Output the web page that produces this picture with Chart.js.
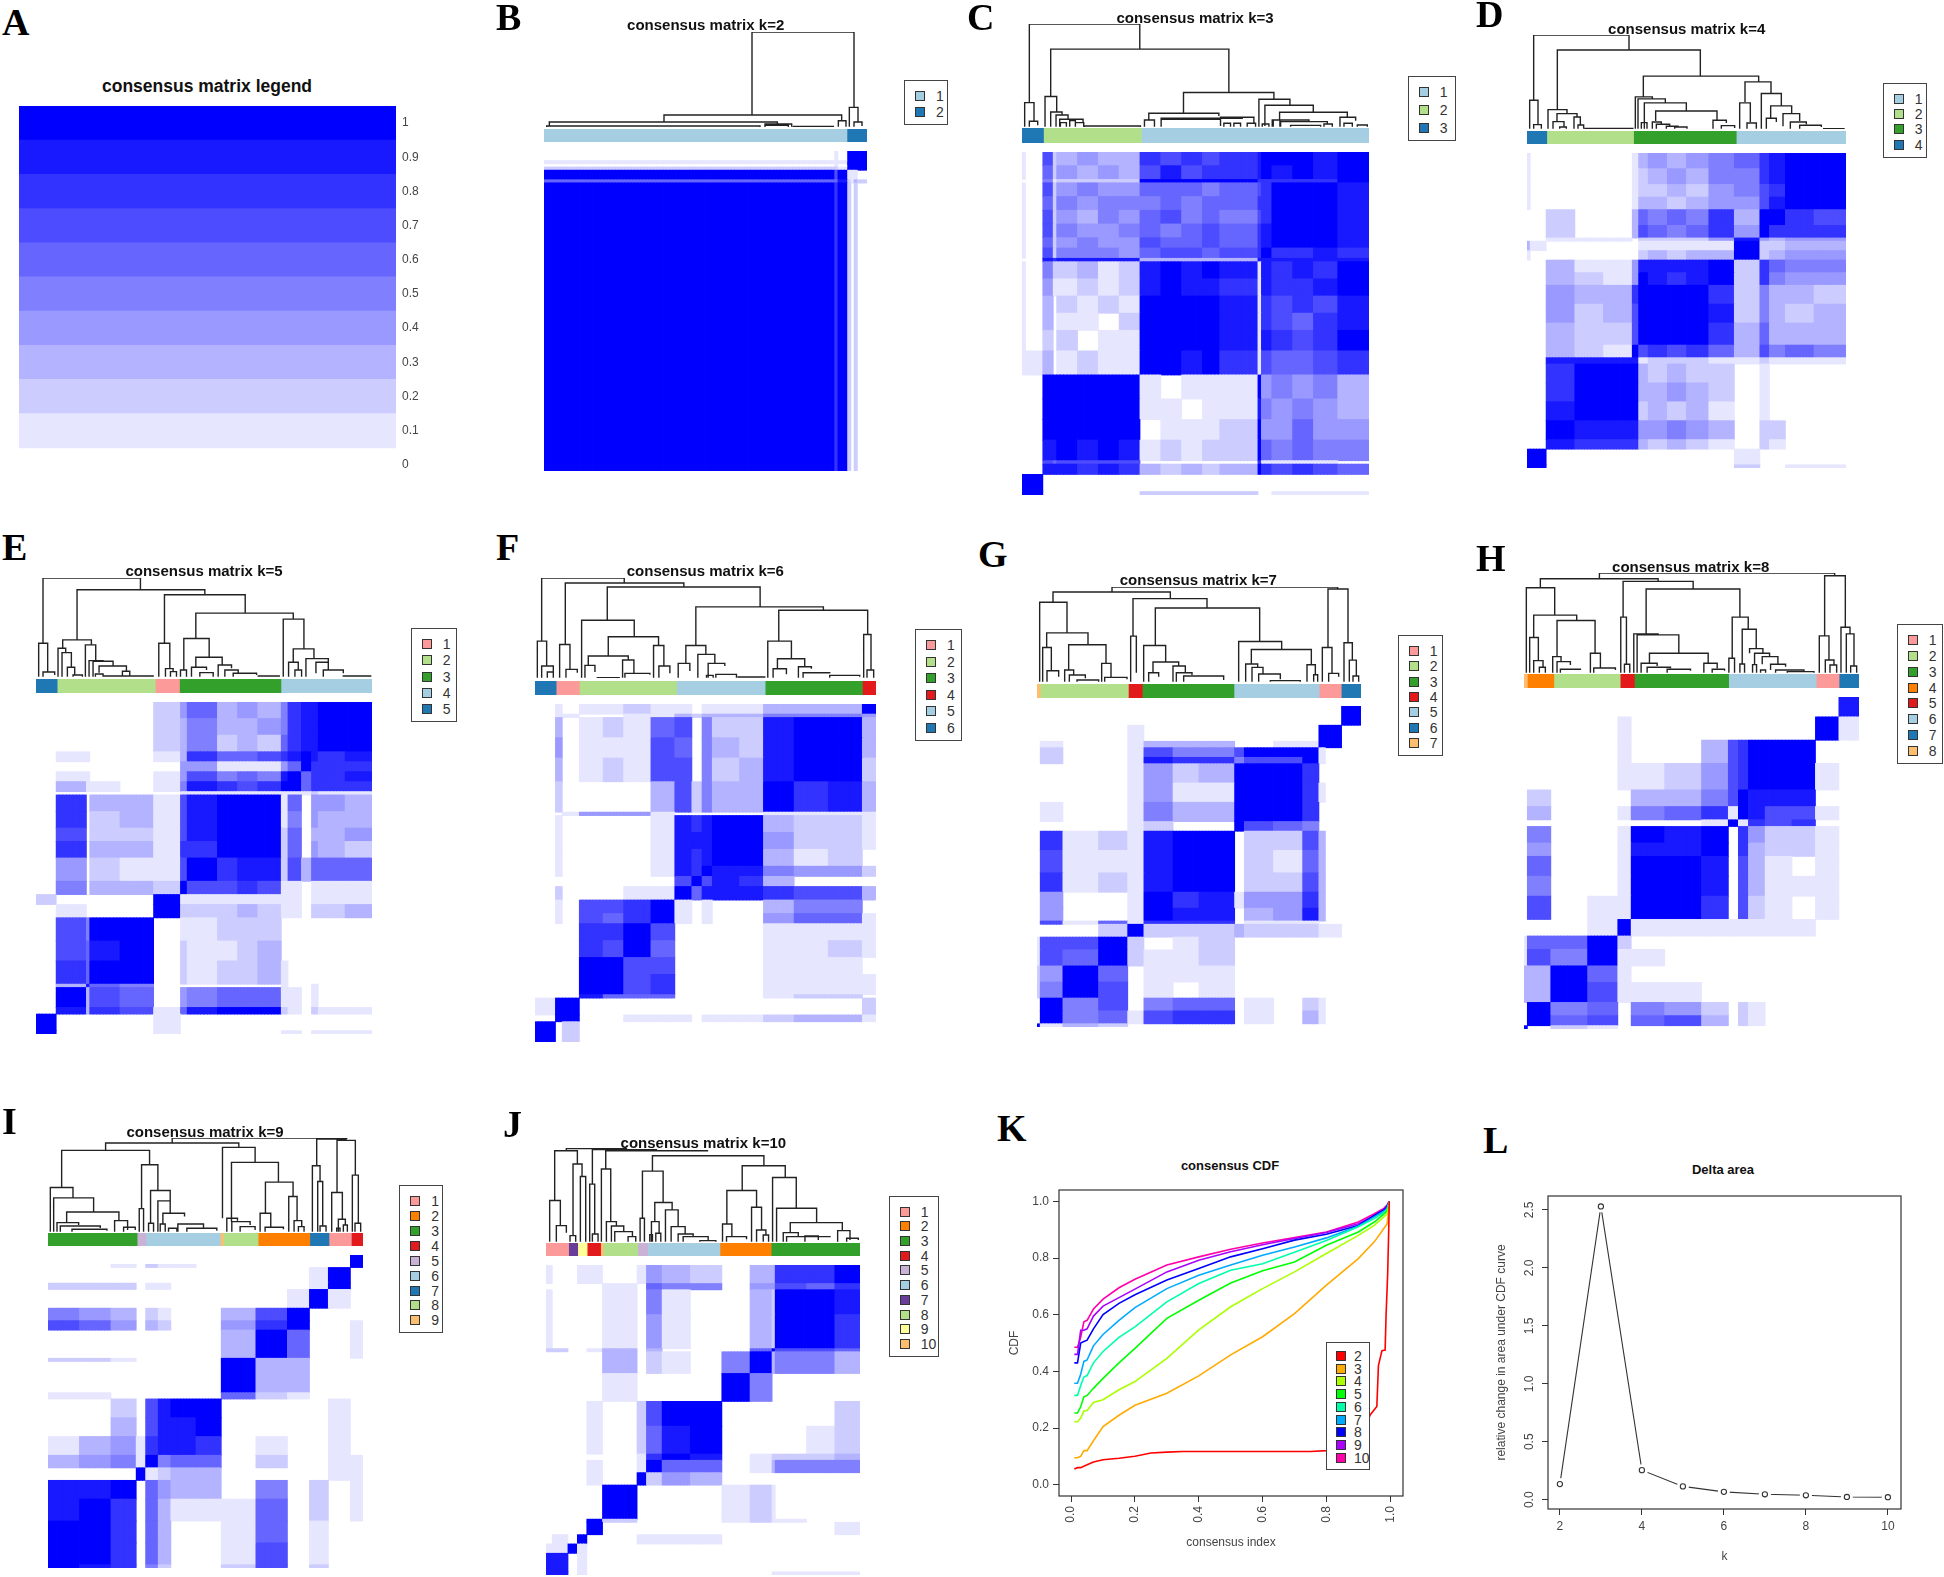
<!DOCTYPE html>
<html>
<head>
<meta charset="utf-8">
<title>consensus clustering</title>
<script src="https://cdn.jsdelivr.net/npm/chart.js@4"></script>
<style>
html, body { margin: 0; padding: 0; background: #fff; overflow: hidden; }
#page { position: relative; width: 1944px; height: 1577px; font-family: "Liberation Sans", Arial, sans-serif; }
#page canvas { position: absolute; filter: blur(0.4px); }
.letter { position: absolute; font: bold 38px/1 "Liberation Serif", serif; color: #000; }
.title { position: absolute; transform: translate(-50%, -50%); font-weight: bold; font-size: 15px; color: #111; white-space: nowrap; }
.legend { position: absolute; box-sizing: border-box; border: 1.3px solid #444; background: #fff; }
.legend i { position: absolute; box-sizing: border-box; border: 1px solid #333; }
.legend span { position: absolute; font-size: 14px; line-height: 14px; color: #333; }
</style>
</head>
<body>
<div id="page"></div>
<script>
// ---- colours
const LB = '#A6CEE3', BL = '#1F78B4', LG = '#B2DF8A', GR = '#33A02C', PK = '#FB9A99', RD = '#E31A1C';
const LO = '#FDBF6F', OR = '#FF7F00', LP = '#CAB2D6', PU = '#6A3D9A', YE = '#FFFF99';
const levelColors = { '0': 'rgba(0,0,0,0)', '1': '#E6E6FF', '2': '#CCCCFF', '3': '#B3B3FF', '4': '#9999FF', '5': '#8080FF',
    '6': '#6666FF', '7': '#4D4DFF', '8': '#3333FF', '9': '#1919FF', 'a': '#0000FF' };

// ---- panel A
const legendLevels = ['1', '2', '3', '4', '5', '6', '7', '8', '9', 'a'];
const legendValues = [0.1, 0.2, 0.3, 0.4, 0.5, 0.6, 0.7, 0.8, 0.9, 1];
const legendTicks = [0, 0.1, 0.2, 0.3, 0.4, 0.5, 0.6, 0.7, 0.8, 0.9, 1];

// ---- cluster bars (share of samples, left to right)
const barB = [93.8, 6.2], barBc = [LB, BL];
const barC = [6.2, 28.2, 65.6], barCc = [BL, LG, LB];
const barD = [6.2, 27.2, 32.2, 34.4], barDc = [BL, LG, GR, LB];
const barE = [6.3, 29.2, 7.2, 30.2, 27.1], barEc = [BL, LG, PK, GR, LB];
const barF = [6.2, 6.8, 28.5, 26, 28.5, 4], barFc = [BL, PK, LG, LB, GR, RD];
const barG = [1, 27.2, 4.3, 28.3, 26.3, 6.8, 6.1], barGc = [LO, LG, RD, GR, LB, PK, BL];
const barH = [1, 8, 20, 4.3, 28.4, 26.4, 6.9, 6], barHc = [LO, OR, LG, RD, GR, LB, PK, BL];
const barI = [28.3, 2.8, 23.6, 1, 11, 16.4, 6.1, 7.1, 3.7], barIc = [GR, LP, LB, LO, LG, OR, BL, PK, RD];
const barJ = [7.2, 2.9, 3, 4.3, 0.8, 11, 3.2, 23, 16.3, 28.3], barJc = [PK, PU, YE, RD, LO, LG, LP, LB, OR, GR];

// ---- legend entries
const legB = [LB, BL];
const legC = [LB, LG, BL];
const legD = [LB, LG, GR, BL];
const legE = [PK, LG, GR, LB, BL];
const legF = [PK, LG, GR, RD, LB, BL];
const legG = [PK, LG, GR, RD, LB, BL, LO];
const legH = [PK, LG, GR, OR, RD, LB, BL, LO];
const legI = [PK, OR, GR, RD, LP, LB, BL, LG, LO];
const legJ = [PK, OR, GR, RD, LP, LB, PU, LG, YE, LO];

// ---- consensus matrices: block edges in samples, one level per block (a = 1.0)
const colsB = [0, 90, 91, 94, 95, 96, 97, 100];
const rowsB = [0, 3, 4, 5, 6, 9, 10, 100];
const matB = [
    '0 1 0 a a a a',
    '1 1 1 a a a a',
    '0 1 0 a a a a',
    '2 2 1 a a a a',
    'a 7 a 1 1 1 0',
    '6 6 9 2 1 3 2',
    'a 8 a 2 0 2 0'];

const colsC = [0, 1, 6, 9, 10, 16, 22, 28, 34, 40, 46, 52, 57, 68, 69, 72, 78, 84, 91, 100];
const rowsC = [0, 4, 8, 9, 13, 17, 21, 25, 28, 31, 32, 37, 42, 47, 52, 58, 65, 72, 78, 84, 90, 91, 94, 99, 100];
const matC = [
    '1072 3433 8787 8 9 a aa9 a',
    '1062 4343 7978 8 9 a 9a9 a',
    '0051 2222 aaaa a 8 8 888 a',
    '1072 4544 6665 6 7 8 aaa 9',
    '1062 5455 5656 6 8 8 aaa 9',
    '1072 4354 6756 5 7 8 aaa 9',
    '1072 5445 6567 6 8 9 aaa 9',
    '1062 4544 7667 6 8 9 aaa 9',
    '1072 5554 6776 7 8 a 889 8',
    '0098 9999 3333 3 9 9 999 9',
    '1052 2312 9a9a 9 1 9 898 a',
    '1041 1212 9a99 8 1 9 889 a',
    '1030 2121 aaaa 9 1 8 787 9',
    '1030 1102 aaaa 9 1 8 768 9',
    '1020 2011 aaaa 9 1 9 878 a',
    '1130 1211 aa9a 8 1 7 667 8',
    '00aa aaaa 1011 1 a 4 545 3',
    '00aa aaaa 1101 1 9 5 454 3',
    '00aa aaaa 0111 2 a 4 464 4',
    '0099 a9a9 1212 2 a 6 565 5',
    '0076 7777 0000 0 8 1 111 0',
    '0099 9898 3232 3 a 8 787 6',
    'aa00 0000 0000 0 0 0 000 0',
    'aa00 0000 2222 2 0 0 111 1'];

const colsD = [0, 1, 6, 15, 24, 33, 35, 38, 44, 50, 57, 65, 73, 76, 81, 90, 100];
const rowsD = [0, 5, 10, 14, 18, 23, 27, 28, 31, 34, 38, 42, 48, 54, 61, 65, 67, 73, 79, 85, 91, 94, 99, 100];
const matD = [
    '1 0 0 00 1 3 434 5 6 8 9 aa',
    '1 0 0 00 1 2 343 5 5 8 9 aa',
    '1 0 0 00 1 2 232 4 5 7 8 aa',
    '1 0 0 00 1 3 323 4 4 7 9 aa',
    '0 0 2 00 3 6 565 8 3 a a 87',
    '0 0 2 00 3 7 656 8 4 a 8 88',
    '0 0 1 11 0 2 222 4 9 4 3 44',
    '3 1 0 00 0 1 111 1 a 2 2 33',
    '1 0 0 00 0 2 323 3 a 2 3 44',
    '0 0 3 11 4 9 999 a 2 8 6 55',
    '0 0 3 21 4 a 989 a 2 8 5 44',
    '0 0 4 33 8 a aaa 8 2 5 3 32',
    '0 0 4 23 7 a aaa 9 2 5 3 23',
    '0 0 3 22 7 a aaa 8 3 6 3 33',
    '0 0 3 21 a 7 878 6 3 7 5 65',
    '0 0 9 99 9 1 222 1 1 2 1 11',
    '0 0 8 aa a 3 232 2 0 1 0 00',
    '0 0 8 aa a 3 343 2 0 1 0 00',
    '0 0 9 aa a 2 323 1 0 1 0 00',
    '0 0 a 99 9 4 454 3 0 2 2 00',
    '0 0 9 88 8 3 232 1 0 2 1 00',
    'a a 0 00 0 0 000 0 1 0 0 00',
    'a a 0 00 0 0 000 0 2 0 0 11'];

const colsE = [0, 6, 15, 16, 25, 35, 43, 45, 54, 60, 66, 73, 75, 79, 82, 84, 92, 100];
const rowsE = [0, 5, 10, 15, 18, 21, 24, 27, 28, 33, 38, 42, 47, 54, 58, 61, 65, 72, 78, 85, 86, 92, 94, 99, 100];
const matE = [
    '0 0 0 0 0 2 4 6 3 4 3 5 8 9 9 a a',
    '0 0 0 0 0 2 3 5 3 3 4 5 8 9 9 a a',
    '0 0 0 0 0 2 3 5 2 3 2 6 8 9 9 a a',
    '0 1 1 0 0 1 3 8 6 6 7 8 9 a 9 8 9',
    '0 0 0 0 0 0 4 4 1 1 1 4 6 a 8 8 8',
    '0 1 1 0 0 1 4 7 5 6 5 9 a 6 8 8 9',
    '0 3 1 1 0 1 5 9 8 7 8 a a 6 8 8 8',
    '0 0 0 0 0 0 1 1 1 1 1 1 1 1 2 1 1',
    '0 8 0 3 3 1 7 9 a a a 1 6 0 4 4 3',
    '0 8 0 2 3 1 7 9 a a a 1 5 0 4 3 3',
    '0 7 0 2 2 1 7 9 a a a 2 6 0 3 3 4',
    '0 8 0 3 3 1 8 8 a a a 2 6 0 4 3 2',
    '0 4 0 2 1 1 7 a 8 9 9 2 7 3 6 6 6',
    '0 5 0 3 3 2 a 7 7 8 7 1 1 0 1 1 1',
    '2 0 0 0 0 a 1 1 1 1 1 1 1 0 1 1 1',
    '0 1 0 0 0 a 2 2 2 3 2 1 1 0 2 2 3',
    '0 7 5 a a 0 1 1 2 2 2 0 0 0 0 0 0',
    '0 7 6 9 a 0 2 1 1 2 3 0 0 0 0 0 0',
    '0 8 6 a a 0 2 1 2 2 3 1 0 0 0 0 0',
    '0 3 9 6 5 0 0 0 0 0 0 1 0 0 1 0 0',
    '0 a 3 7 6 0 4 5 6 6 6 1 1 0 1 0 0',
    '0 9 3 8 7 1 6 9 a a a 2 1 0 2 1 1',
    'a 0 0 0 0 1 0 0 0 0 0 0 0 0 0 0 0',
    'a 0 0 0 0 1 0 0 0 0 0 1 1 0 1 1 1'];

const colsF = [0, 6, 8, 13, 20, 26, 34, 41, 46, 49, 52, 60, 67, 76, 86, 96, 100];
const rowsF = [0, 3, 4, 10, 16, 23, 32, 33, 38, 43, 48, 51, 54, 58, 62, 65, 70, 75, 80, 86, 87, 92, 94, 100];
const matF = [
    '0 1 0 1 1 2 1 1 0 1 1 1 3 3 3 a',
    '0 1 1 0 0 1 1 3 2 3 3 3 5 5 5 4',
    '0 3 0 1 2 1 6 7 0 5 2 2 9 a a 3',
    '0 4 0 1 1 1 7 6 0 5 3 2 9 a a 3',
    '0 3 0 1 2 1 7 7 0 5 2 3 9 a a 2',
    '0 2 0 0 0 0 3 7 2 5 3 3 a 8 9 3',
    '0 0 1 4 4 4 1 0 0 0 0 0 1 1 1 1',
    '0 1 0 0 0 0 1 9 8 9 a a 3 2 2 1',
    '0 1 0 0 0 0 1 9 9 9 a a 4 2 2 1',
    '0 1 0 0 0 0 1 9 8 9 a a 3 1 2 0',
    '0 1 0 0 0 0 1 9 8 a 9 9 5 4 4 2',
    '0 0 0 0 0 0 0 7 a 7 9 8 3 0 0 0',
    '0 2 0 0 0 1 1 a 6 9 9 9 8 7 7 3',
    '0 1 0 7 7 8 a 1 0 1 0 0 3 5 5 0',
    '0 1 0 7 6 8 a 1 0 1 0 0 4 6 6 1',
    '0 0 0 8 8 a 7 0 0 0 0 0 1 1 1 1',
    '0 0 0 8 7 a 6 0 0 0 0 0 1 1 2 1',
    '0 0 0 a a 7 7 0 0 0 0 0 1 1 1 0',
    '0 0 0 a a 7 8 0 0 0 0 0 1 1 1 1',
    '0 0 0 9 6 6 6 0 0 0 0 0 1 2 2 0',
    '1 a a 0 0 0 0 0 0 0 0 0 0 0 0 2',
    '0 a a 0 0 1 1 1 0 1 1 1 2 3 3 1',
    'a 0 2 0 0 0 0 0 0 0 0 0 0 0 0 0'];

const colsG = [0, 1, 8, 19, 28, 33, 42, 50, 61, 64, 73, 82, 87, 89, 94, 100];
const rowsG = [0, 6, 11, 13, 16, 18, 24, 30, 36, 39, 45, 52, 58, 63, 67, 68, 72, 76, 81, 86, 91, 95, 99, 100];
const matG = [
    '0 0 0 0 0 0 0 0 0 0 0 0 0 0 a',
    '0 0 0 0 1 0 0 0 0 0 0 0 a a 0',
    '0 1 0 0 1 3 3 3 0 0 1 1 a a 0',
    '0 2 0 0 1 7 5 5 7 a a a 1 0 0',
    '0 2 0 0 1 9 8 8 5 7 7 a 1 0 0',
    '0 0 0 0 1 4 2 3 a a a 8 0 0 0',
    '0 0 0 0 1 4 1 1 a a a 8 1 0 0',
    '0 1 0 0 1 5 3 3 a a a 8 0 0 0',
    '0 0 0 0 1 2 0 0 a 7 6 5 0 0 0',
    '0 8 1 2 1 9 a a 0 2 2 7 3 0 0',
    '0 7 1 1 1 9 a a 0 2 1 6 3 0 0',
    '0 8 1 2 1 9 a a 0 2 2 7 3 0 0',
    '0 4 0 0 1 a 8 9 1 4 4 8 3 0 0',
    '0 4 0 0 1 a 9 9 0 3 4 9 3 0 0',
    '0 7 1 6 1 8 8 8 0 1 1 1 0 0 0',
    '0 0 0 2 a 2 2 2 3 2 2 2 1 1 0',
    '1 7 7 a 2 0 1 2 0 0 0 0 0 0 0',
    '1 7 6 a 2 1 1 2 0 0 0 0 0 0 0',
    '2 4 a 6 0 1 1 1 0 0 0 0 0 0 0',
    '2 5 a 7 0 1 0 1 0 0 0 0 0 0 0',
    '0 a 5 7 0 5 6 6 0 1 0 2 1 0 0',
    '0 a 5 6 1 7 8 8 0 1 0 3 1 0 0',
    'a 1 3 2 0 0 0 0 0 0 0 0 0 0 0'];

const colsH = [0, 1, 8, 19, 28, 32, 42, 53, 61, 64, 67, 72, 80, 87, 94, 100];
const rowsH = [0, 6, 13, 20, 28, 33, 37, 39, 44, 48, 54, 60, 67, 72, 76, 81, 86, 92, 96, 99, 100];
const matH = [
    '0 0 0 0 0 0 0 0 0 0 0 0 0 0 9',
    '0 0 0 0 1 0 0 0 0 0 0 0 0 a 1',
    '0 0 0 0 1 0 0 3 7 8 a a a 0 0',
    '0 0 0 0 1 1 2 4 7 8 a a a 1 0',
    '0 2 0 0 0 3 3 5 7 a 9 9 9 0 0',
    '0 3 0 0 1 5 6 8 1 a 9 7 7 1 0',
    '0 0 0 0 0 0 0 1 a 1 8 7 8 0 0',
    '0 5 0 0 1 a 9 a 0 8 4 2 2 1 0',
    '0 4 0 0 1 9 9 a 0 8 3 2 2 1 0',
    '0 6 0 0 1 a a 9 0 7 3 1 0 1 0',
    '0 5 0 0 1 a a 9 0 7 3 1 1 1 0',
    '0 7 0 1 1 a a 8 0 7 2 1 0 1 0',
    '0 0 0 1 a 1 1 1 1 1 1 1 1 0 0',
    '1 6 6 a 2 0 0 0 0 0 0 0 0 0 0',
    '1 7 5 a 1 1 0 0 0 0 0 0 0 0 0',
    '3 3 a 6 1 0 0 0 0 0 0 0 0 0 0',
    '3 3 a 7 1 1 1 0 0 0 0 0 0 0 0',
    '0 a 5 6 0 5 4 2 0 2 1 0 0 0 0',
    '0 a 6 7 0 6 7 3 0 2 1 0 0 0 0',
    'a 0 2 1 0 0 0 0 0 0 0 0 0 0 0'];

const colsI = [0, 10, 20, 28, 31, 35, 39, 47, 55, 66, 76, 83, 89, 96, 100];
const rowsI = [0, 3, 4, 9, 11, 17, 21, 24, 33, 34, 44, 46, 52, 58, 64, 68, 72, 78, 85, 92, 99, 100];
const matI = [
    '0 0 0 0 0 0 0 0 0 0 0 0 0 a',
    '0 0 1 0 2 1 1 0 0 0 0 0 0 a',
    '0 0 0 0 0 0 0 0 0 0 0 1 a 0',
    '2 2 2 0 1 1 0 0 0 0 0 1 a 0',
    '0 0 0 0 0 0 0 0 0 0 1 a 1 0',
    '5 4 3 0 2 1 0 0 3 7 a 0 0 0',
    '7 6 4 0 3 2 0 0 4 8 a 0 0 1',
    '0 0 0 0 0 0 0 0 3 a 6 0 0 1',
    '2 2 1 0 0 0 0 0 a 3 3 0 0 0',
    '0 0 0 0 0 0 0 0 a 3 3 0 0 0',
    '1 1 0 0 0 0 0 0 6 2 1 0 0 0',
    '0 0 2 0 7 9 a a 0 0 0 0 1 0',
    '0 0 3 0 7 9 9 a 0 0 0 0 1 0',
    '1 3 4 1 8 9 9 8 0 1 0 0 1 0',
    '3 4 5 1 a 5 6 6 0 2 0 0 1 1',
    '0 0 0 a 1 2 3 3 0 0 0 0 1 1',
    '9 9 a 0 6 4 3 3 0 5 0 2 0 1',
    '9 a 8 0 6 3 1 1 1 6 0 2 0 1',
    'a a 8 0 6 3 0 0 1 6 0 1 0 0',
    'a a 8 0 6 3 0 0 1 7 0 1 0 0',
    'a 9 8 0 5 2 0 0 2 7 0 2 0 0'];

const colsJ = [0, 2, 7, 10, 13, 18, 29, 32, 37, 46, 56, 65, 72, 73, 83, 92, 100];
const rowsJ = [0, 6, 8, 16, 27, 28, 35, 44, 52, 61, 63, 67, 71, 82, 83, 87, 90, 93, 99, 100];
const matJ = [
    '1 0 0 1 1 0 1 4 3 2 0 3 3 8 8 a',
    '0 0 0 0 0 1 0 6 5 5 0 4 4 7 6 8',
    '1 0 0 0 0 1 0 5 1 0 0 3 2 a a 9',
    '1 0 0 0 0 1 0 4 1 0 0 3 2 a a 8',
    '2 2 0 0 1 3 0 3 0 0 0 6 a 7 7 6',
    '0 0 0 0 0 3 0 2 1 0 5 a 3 5 5 3',
    '0 0 0 0 0 1 0 0 0 0 a 5 0 0 0 0',
    '0 0 0 0 1 0 2 7 a a 0 0 0 0 0 2',
    '0 0 0 0 1 0 2 6 9 a 0 0 0 0 1 2',
    '0 0 0 0 0 0 1 8 a 9 0 1 2 2 2 3',
    '0 0 0 0 1 0 1 a 6 6 0 1 3 5 5 5',
    '0 0 0 0 1 0 a 2 4 3 0 0 0 0 0 0',
    '0 0 0 0 0 a 0 0 0 0 1 2 1 0 0 0',
    '0 0 0 0 a 2 0 0 0 0 1 2 1 1 0 0',
    '0 0 0 0 a 0 0 0 0 0 0 0 0 0 0 1',
    '0 1 0 a 0 0 1 1 1 1 0 0 0 0 0 0',
    '1 1 a 1 0 0 0 0 0 0 0 0 0 0 0 0',
    '9 9 0 1 0 0 0 0 0 0 0 0 0 0 0 0',
    '9 9 0 1 0 0 0 0 0 0 0 0 1 1 1 1'];

const treeB = [[816,1122,95,345,322],[552,1085,345,366,362],[208,892,366,378,372],[200,840,378,381,381],[855,935,372,380,380],
    [855,925,376,381,381],[940,1060,379,381,381],[1075,1098,362,380,380],[1108,1134,322,380,366],[1122,1146,366,380,378]];
const treeC = [[207,538,73,308,148],[271,805,148,290,278],[193,221,308,380,362],[207,232,364,380,376],[254,289,290,380,336],
    [271,305,336,380,345],[287,323,345,380,358],[298,368,358,380,366],[300,318,368,380,380],[328,345,362,380,380],[345,370,368,380,380],
    [372,540,378,381,381],[669,940,278,340,298],[565,775,340,358,348],[552,582,360,380,380],[602,845,355,380,350],[602,780,358,378,378],
    [780,880,352,370,370],[790,810,370,380,380],[820,840,370,380,380],[860,885,370,380,380],[895,988,298,380,315],[913,1058,316,378,336],
    [957,1160,337,358,352],[935,1045,360,380,365],[905,925,372,380,380],[938,958,360,380,380],[960,1100,365,380,372],[990,1080,376,380,380],
    [1090,1115,372,380,380],[1138,1185,352,380,362],[1150,1175,370,380,380],[1190,1220,375,380,380]];
const treeD = [[192,478,105,300,150],[263,692,150,330,228],[180,205,300,385,373],[192,215,373,385,385],[235,292,328,385,340],
    [262,322,340,362,350],[250,283,364,385,378],[270,290,380,385,385],[313,332,350,385,372],[325,342,374,385,385],[345,490,384,385,385],
    [521,867,228,288,245],[497,548,290,385,295],[505,587,296,385,308],[524,650,308,385,332],[558,742,332,362,360],[515,532,367,385,385],
    [548,575,365,385,370],[560,600,372,385,376],[590,625,378,385,380],[615,652,380,385,385],[730,770,360,385,368],[755,795,376,385,383],
    [826,904,245,305,278],[810,842,308,385,365],[832,860,368,385,385],[875,935,280,385,315],[903,966,317,352,340],[890,920,354,385,365],
    [940,990,340,378,362],[962,1010,365,385,372],[990,1055,375,385,380],[1060,1125,385,385,385]];
const treeE = [[130,422,145,340,180],[232,615,180,330,193],[117,144,340,440,425],[130,165,426,440,435],[189,275,330,355,345],
    [175,198,355,440,368],[187,215,368,440,412],[203,225,412,440,435],[220,248,435,440,440],[257,288,345,440,390],[268,310,392,440,394],
    [280,340,394,440,408],[298,380,408,428,424],[287,310,432,440,440],[368,390,424,440,440],[310,460,438,440,440],[494,736,195,340,250],
    [477,510,340,440,415],[497,520,416,440,425],[512,530,425,440,440],[588,880,250,326,268],[552,628,326,420,382],[542,560,420,440,440],
    [588,667,382,412,405],[575,620,412,440,420],[600,640,428,440,440],[655,695,405,440,415],[675,715,420,440,428],[700,770,430,440,435],
    [775,838,438,440,440],[850,912,268,440,356],[880,942,357,395,385],[866,895,397,440,418],[918,985,386,440,396],[948,985,397,430,420],
    [970,1030,420,440,430],[885,905,420,440,440],[1030,1112,438,440,440]];
const treeF = [[155,403,145,335,160],[226,582,160,345,172],[352,811,172,270,232],[142,170,335,445,410],[155,190,410,445,428],
    [172,190,428,445,445],[209,240,345,445,420],[228,262,420,445,430],[275,433,272,445,322],[355,506,322,380,348],[295,415,380,408,392],
    [285,315,408,445,428],[398,432,392,445,432],[405,480,432,445,436],[320,390,445,445,445],[491,522,348,445,410],[507,540,410,445,432],
    [618,1001,232,348,242],[588,648,348,400,375],[565,600,402,445,425],[624,675,375,445,400],[655,705,402,445,410],[678,740,435,445,445],
    [650,670,438,445,445],[745,825,443,445,445],[867,1134,242,335,315],[834,905,335,445,388],[863,945,388,418,412],[850,890,418,445,435],
    [926,965,412,445,418],[940,1020,430,445,432],[1020,1110,438,445,442],[1122,1144,315,445,422],[1132,1152,422,445,445]];
const treeG = [[425,1102,170,185,176],[248,600,185,215,205],[208,290,216,455,308],[229,353,308,352,344],[217,243,352,455,422],
    [230,265,422,455,440],[295,407,344,420,400],[283,310,420,455,435],[297,345,435,455,445],[320,385,450,455,455],[394,422,400,455,442],
    [403,470,442,455,448],[488,710,205,318,233],[481,498,318,455,428],[555,868,233,346,332],[520,586,346,455,396],[548,625,396,428,408],
    [535,565,428,455,440],[608,645,408,455,428],[618,665,428,455,435],[640,760,438,455,450],[805,934,334,455,358],[843,1023,358,402,404],
    [826,862,402,455,410],[845,878,412,455,430],[865,930,432,455,448],[900,990,452,455,455],[1010,1035,404,455,432],[1030,1042,434,455,455],
    [1073,1133,176,352,336],[1056,1085,352,455,428],[1075,1105,430,455,440],[1121,1146,338,455,390],[1137,1158,390,455,438],[1148,1165,438,455,455]];
const treeH = [[387,1092,130,147,138],[210,563,147,173,155],[168,253,174,428,255],[190,319,256,322,272],[178,204,323,428,392],
    [190,218,392,428,410],[207,225,412,428,428],[260,374,272,378,370],[247,272,380,428,395],[260,300,395,428,405],[270,330,418,428,420],
    [360,390,370,428,412],[370,435,414,428,420],[458,668,155,262,178],[451,468,262,428,403],[462,478,403,428,428],[527,808,178,310,262],
    [490,563,312,428,315],[500,625,315,428,368],[537,713,370,400,398],[512,560,400,428,408],[530,600,412,428,415],[590,660,418,428,422],
    [700,740,400,428,415],[725,762,418,428,422],[785,833,262,385,298],[775,792,385,428,428],[815,857,298,400,356],[808,822,402,428,428],
    [837,877,356,370,370],[852,897,370,402,380],[846,858,404,428,428],[875,922,380,403,403],[900,945,403,420,410],[870,885,420,428,428],
    [915,1000,420,428,425],[950,1030,425,428,428],[1062,1124,138,318,292],[1046,1075,318,428,390],[1064,1090,390,428,405],[1078,1098,405,428,428],
    [1111,1138,292,428,312],[1127,1150,312,428,408],[1140,1158,408,428,428]];
const treeI = [[516,1040,115,130,118],[316,716,130,152,142],[184,448,152,262,195],[150,218,263,395,293],[160,280,294,395,336],
    [199,356,336,368,362],[170,235,368,395,375],[180,300,378,395,384],[215,320,388,395,392],[343,382,362,395,390],[370,405,382,395,390],
    [424,473,195,326,272],[417,430,326,395,395],[451,510,272,370,303],[445,460,370,395,395],[473,510,303,395,338],[488,553,340,372,350],
    [480,495,372,395,395],[505,530,385,395,395],[533,610,372,395,385],[560,650,385,395,392],[667,765,143,355,188],[694,835,188,365,247],
    [680,712,355,395,362],[695,750,365,395,375],[720,765,380,395,390],[796,879,247,340,290],[780,812,340,395,380],[795,850,382,395,388],
    [866,891,290,395,362],[882,905,362,395,380],[895,912,380,395,395],[950,1038,118,198,122],[1011,1066,122,278,226],[937,960,198,395,245],
    [953,968,245,395,378],[960,978,378,395,395],[995,1027,278,395,358],[1015,1036,358,395,375],[1010,1020,385,395,395],[1030,1042,375,395,395],
    [1057,1075,226,395,370],[1065,1082,370,395,395]];
const treeJ = [[200,380,147,152,150],[165,233,153,302,192],[150,182,302,425,375],[170,200,377,425,398],[220,247,193,405,230],
    [211,228,407,425,425],[242,258,230,425,425],[278,470,150,253,152],[270,285,253,425,402],[278,295,402,425,425],[318,625,153,208,153],
    [458,792,168,213,198],[305,333,208,425,365],[320,350,365,425,376],[335,372,378,425,395],[345,398,395,425,410],[385,408,410,425,425],
    [428,490,214,355,308],[421,434,355,425,425],[465,517,308,365,330],[455,478,365,425,400],[450,458,404,425,425],[468,483,400,425,425],
    [497,535,330,425,380],[514,556,380,425,400],[535,580,402,425,410],[550,625,410,425,420],[600,648,422,425,425],[727,856,198,272,232],
    [681,770,272,370,322],[668,696,372,425,410],[680,740,410,425,418],[755,785,322,425,390],[770,798,390,425,405],[790,806,405,425,425],
    [818,889,233,425,325],[830,950,325,425,368],[871,1027,368,398,392],[850,895,398,425,410],[860,990,410,425,412],[915,955,408,425,420],
    [1013,1050,392,425,420],[1040,1075,415,425,420]];

// ---- panel K, CDF curves
const cdfLabels = ['2', '3', '4', '5', '6', '7', '8', '9', '10'];
const cdfColors = ['#FF0000', '#FFAA00', '#AAFF00', '#00FF00', '#00FFAA', '#00AAFF', '#0000FF', '#AA00FF', '#FF00AA'];
const cdfTicks = [0, 0.2, 0.4, 0.6, 0.8, 1];
const x2 = [0.01, 0.02, 0.03, 0.05, 0.07, 0.1, 0.15, 0.2, 0.25, 0.3, 0.35, 0.5, 0.75, 0.8, 0.85, 0.9, 0.937, 0.958, 0.963, 0.974, 0.984, 0.987, 0.992, 0.995, 0.997];
const y2 = [0.055, 0.06, 0.06, 0.07, 0.08, 0.088, 0.093, 0.1, 0.112, 0.115, 0.117, 0.117, 0.117, 0.12, 0.125, 0.14, 0.246, 0.276, 0.42, 0.473, 0.475, 0.6, 0.745, 0.886, 1];
const xCdf = [0.01, 0.02, 0.03, 0.04, 0.05, 0.07, 0.1, 0.15, 0.2, 0.3, 0.4, 0.5, 0.6, 0.7, 0.8, 0.9, 0.95, 0.98, 0.99, 0.997];
const y3 = [0.095, 0.095, 0.1, 0.12, 0.12, 0.155, 0.205, 0.245, 0.28, 0.323, 0.384, 0.458, 0.522, 0.604, 0.704, 0.798, 0.857, 0.904, 0.92, 0.985];
const y4 = [0.222, 0.222, 0.235, 0.26, 0.262, 0.29, 0.3, 0.335, 0.364, 0.446, 0.546, 0.628, 0.692, 0.751, 0.816, 0.88, 0.915, 0.945, 0.955, 0.99];
const y5 = [0.253, 0.253, 0.275, 0.31, 0.315, 0.34, 0.375, 0.43, 0.481, 0.587, 0.651, 0.712, 0.755, 0.786, 0.845, 0.892, 0.927, 0.955, 0.965, 0.995];
const y6 = [0.315, 0.315, 0.35, 0.38, 0.385, 0.43, 0.47, 0.52, 0.557, 0.645, 0.71, 0.757, 0.78, 0.82, 0.862, 0.91, 0.939, 0.96, 0.97, 0.998];
const y7 = [0.358, 0.358, 0.39, 0.435, 0.44, 0.49, 0.53, 0.58, 0.625, 0.692, 0.739, 0.775, 0.81, 0.839, 0.871, 0.912, 0.945, 0.965, 0.975, 1];
const y8 = [0.43, 0.43, 0.5, 0.505, 0.51, 0.55, 0.6, 0.64, 0.67, 0.722, 0.763, 0.804, 0.833, 0.863, 0.884, 0.915, 0.95, 0.97, 0.98, 1];
const y9 = [0.46, 0.46, 0.545, 0.545, 0.55, 0.595, 0.63, 0.66, 0.69, 0.751, 0.792, 0.822, 0.847, 0.869, 0.89, 0.921, 0.95, 0.972, 0.985, 1];
const y10 = [0.485, 0.485, 0.52, 0.575, 0.58, 0.62, 0.655, 0.695, 0.725, 0.775, 0.804, 0.831, 0.853, 0.872, 0.892, 0.927, 0.956, 0.975, 0.987, 1];

// ---- panel L, delta area
const kValues = [2, 3, 4, 5, 6, 7, 8, 9, 10];
const deltaValues = [0.135, 2.53, 0.255, 0.115, 0.068, 0.047, 0.038, 0.024, 0.022];
const kTicks = [2, 4, 6, 8, 10];
const deltaTicks = [0, 0.5, 1, 1.5, 2, 2.5];

// ---- helpers
Chart.defaults.animation = false;
Chart.defaults.font.family = '"Liberation Sans", Arial, sans-serif';
Chart.defaults.plugins.legend.display = false;
Chart.defaults.plugins.tooltip.enabled = false;
Chart.defaults.events = [];

const page = document.getElementById('page');

function makeCanvas(x, y, w, h) {
    const c = document.createElement('canvas');
    c.width = Math.round(w);
    c.height = Math.round(h);
    c.style.left = Math.round(x) + 'px';
    c.style.top = Math.round(y) + 'px';
    c.style.width = Math.round(w) + 'px';
    c.style.height = Math.round(h) + 'px';
    page.appendChild(c);
    return c;
}

function addText(cls, text, x, y, size) {
    const d = document.createElement('div');
    d.className = cls;
    d.textContent = text;
    d.style.left = x + 'px';
    d.style.top = y + 'px';
    if (size) d.style.fontSize = size + 'px';
    page.appendChild(d);
}

function addLegend(x, y, w, h, colors, names, first, step, swatchLeft, textLeft) {
    const box = document.createElement('div');
    box.className = 'legend';
    box.style.cssText = `left:${x}px;top:${y}px;width:${w}px;height:${h}px`;
    colors.forEach((col, i) => {
        const cy = first + i * step;
        const sw = document.createElement('i');
        sw.style.cssText = `left:${swatchLeft}px;top:${cy - 5}px;width:10px;height:10px;background:${col}`;
        box.appendChild(sw);
        const t = document.createElement('span');
        t.style.cssText = `left:${textLeft}px;top:${cy - 7}px`;
        t.textContent = names[i];
        box.appendChild(t);
    });
    page.appendChild(box);
}

function drawMatrix(x, y, w, h, colEdges, rowEdges, grid) {
    const samples = [];
    const blockOf = [];
    for (let b = 0; b < colEdges.length - 1; b++) {
        for (let s = colEdges[b]; s < colEdges[b + 1]; s++) {
            samples.push(String(s));
            blockOf.push(b);
        }
    }
    if (grid.length !== rowEdges.length - 1) throw new Error('row count ' + grid.length + ' vs ' + rowEdges);
    const datasets = [];
    for (let r = grid.length - 1; r >= 0; r--) {
        const cells = grid[r].replace(/ /g, '');
        if (cells.length !== colEdges.length - 1) throw new Error('bad row ' + grid[r]);
        datasets.push({
            data: samples.map(() => rowEdges[r + 1] - rowEdges[r]),
            backgroundColor: blockOf.map(b => levelColors[cells[b]]),
            borderWidth: 0,
            inflateAmount: 0.4,
            barPercentage: 1,
            categoryPercentage: 1
        });
    }
    new Chart(makeCanvas(x, y, w, h), {
        type: 'bar',
        data: { labels: samples, datasets },
        options: {
            responsive: false,
            scales: {
                x: { stacked: true, display: false },
                y: { stacked: true, display: false, min: 0, max: rowEdges[rowEdges.length - 1] }
            }
        }
    });
}

function drawClusterBar(x, y, w, h, sizes, colors) {
    new Chart(makeCanvas(x, y, w, h), {
        type: 'bar',
        data: {
            labels: ['clusters'],
            datasets: sizes.map((s, i) => ({
                data: [s], backgroundColor: colors[i], borderWidth: 0, barPercentage: 1, categoryPercentage: 1
            }))
        },
        options: {
            responsive: false,
            indexAxis: 'y',
            scales: {
                x: { stacked: true, display: false, min: 0, max: sizes.reduce((a, b) => a + b, 0) },
                y: { stacked: true, display: false }
            }
        }
    });
}

function drawTree(x, y, w, h, merges, xRange, yRange) {
    const pts = [];
    merges.forEach(m => {
        pts.push({ x: m[0], y: m[3] }, { x: m[0], y: m[2] }, { x: m[1], y: m[2] }, { x: m[1], y: m[4] }, { x: NaN, y: NaN });
    });
    new Chart(makeCanvas(x - 2, y - 2, w + 4, h + 2), {
        type: 'scatter',
        data: { datasets: [{ data: pts, showLine: true, borderColor: '#222', borderWidth: 1.4, pointRadius: 0, spanGaps: false }] },
        options: {
            responsive: false,
            layout: { padding: { left: 2, right: 2, top: 2, bottom: 0 } },
            scales: {
                x: { display: false, min: xRange[0], max: xRange[1] },
                y: { display: false, reverse: true, min: yRange[0], max: yRange[1] }
            }
        }
    });
}

// every panel's frame, in the 3x crop units it was read in
const panels = [
    { ox: 480, oy: 0, m: [192, 1161, 452, 1412], bar: [387, 427], tree: [95, 381], title: [677, 72], leg: [1272, 1405, 240, 376], k: 2, sizes: barB, colors: barBc, legend: legB, cols: colsB, rows: rowsB, mat: matB, merges: treeB },
    { ox: 960, oy: 0, m: [185, 1225, 457, 1487], bar: [385, 430], tree: [73, 381], title: [705, 50], leg: [1343, 1488, 228, 422], k: 3, sizes: barC, colors: barCc, legend: legC, cols: colsC, rows: rowsC, mat: matC, merges: treeC },
    { ox: 1470, oy: 0, m: [172, 1129, 459, 1405], bar: [393, 433], tree: [105, 386], title: [650, 83], leg: [1238, 1370, 248, 473], k: 4, sizes: barD, colors: barDc, legend: legD, cols: colsD, rows: rowsD, mat: matD, merges: treeD },
    { ox: 0, oy: 530, m: [109, 1116, 516, 1513], bar: [447, 490], tree: [145, 441], title: [612, 121], leg: [1232, 1371, 294, 577], k: 5, sizes: barE, colors: barEc, legend: legE, cols: colsE, rows: rowsE, mat: matE, merges: treeE },
    { ox: 490, oy: 530, m: [135, 1159, 523, 1536], bar: [453, 496], tree: [145, 446], title: [646, 121], leg: [1275, 1417, 298, 632], k: 6, sizes: barF, colors: barFc, legend: legF, cols: colsF, rows: rowsF, mat: matF, merges: treeF },
    { ox: 970, oy: 530, m: [200, 1172, 528, 1492], bar: [461, 503], tree: [170, 456], title: [685, 148], leg: [1283, 1418, 314, 679], k: 7, sizes: barG, colors: barGc, legend: legG, cols: colsG, rows: rowsG, mat: matG, merges: treeG },
    { ox: 1470, oy: 530, m: [161, 1165, 502, 1497], bar: [433, 476], tree: [130, 429], title: [662, 108], leg: [1280, 1418, 281, 703], k: 8, sizes: barH, colors: barHc, legend: legH, cols: colsH, rows: rowsH, mat: matH, merges: treeH },
    { ox: 0, oy: 1100, m: [143, 1089, 464, 1402], bar: [400, 440], tree: [115, 396], title: [615, 93], leg: [1198, 1328, 256, 700], k: 9, sizes: barI, colors: barIc, legend: legI, cols: colsI, rows: rowsI, mat: matI, merges: treeI },
    { ox: 500, oy: 1100, m: [139, 1080, 494, 1424], bar: [430, 469], tree: [145, 426], title: [610, 125], leg: [1166, 1317, 287, 771], k: 10, sizes: barJ, colors: barJc, legend: legJ, cols: colsJ, rows: rowsJ, mat: matJ, merges: treeJ }
];

panels.forEach(p => {
    const X = v => p.ox + v / 3;
    const Y = v => p.oy + v / 3;
    const left = X(p.m[0]), w = (p.m[1] - p.m[0]) / 3;
    drawTree(left, Y(p.tree[0]), w, (p.tree[1] - p.tree[0]) / 3, p.merges, [p.m[0], p.m[1]], p.tree);
    drawClusterBar(left, Y(p.bar[0]), w, (p.bar[1] - p.bar[0]) / 3, p.sizes, p.colors);
    drawMatrix(left, Y(p.m[2]), w, (p.m[3] - p.m[2]) / 3, p.cols, p.rows, p.mat);
    addText('title', 'consensus matrix k=' + p.k, X(p.title[0]), Y(p.title[1]));
    const n = p.legend.length;
    const lh = (p.leg[3] - p.leg[2]) / 3;
    addLegend(X(p.leg[0]), Y(p.leg[2]), (p.leg[1] - p.leg[0]) / 3, lh, p.legend, p.legend.map((c, i) => String(i + 1)), 15, (lh - 29) / (n - 1), 10, 31);
});

// panel letters
const letters = [['A', 2, 3], ['B', 496, -2], ['C', 967, -2], ['D', 1476, -5], ['E', 2, 528], ['F', 496, 528], ['G', 978, 535], ['H', 1476, 539], ['I', 2, 1102], ['J', 503, 1105], ['K', 997, 1109], ['L', 1483, 1121]];
letters.forEach(l => addText('letter', l[0], l[1], l[2]));

// labels sit inside the plot range here, so no room is kept for them
function noScalePadding(s) {
    s.paddingTop = 0;
    s.paddingBottom = 0;
    s.paddingLeft = 0;
    s.paddingRight = 0;
}

// ---- panel A
addText('title', 'consensus matrix legend', 207, 86, 17.5);
new Chart(makeCanvas(19, 106, 421, 376), {
    type: 'bar',
    data: {
        labels: ['legend'],
        datasets: legendValues.map((v, i) => ({
            data: [[v - 0.05, v + 0.05]], backgroundColor: levelColors[legendLevels[i]], borderWidth: 0,
            grouped: false, barPercentage: 1, categoryPercentage: 1
        }))
    },
    options: {
        responsive: false,
        scales: {
            x: { display: false },
            y: {
                position: 'right', min: -0.05, max: 1.05,
                afterFit: s => { s.width = 44; noScalePadding(s); },
                afterBuildTicks: s => { s.ticks = legendTicks.map(v => ({ value: v })); },
                grid: { display: false, drawTicks: false, tickLength: 0 }, border: { display: false },
                ticks: { color: '#444', font: { size: 12 }, padding: 6, callback: v => String(v) }
            }
        }
    }
});

// frame round the base-graphics plots
const framePlugin = {
    id: 'frame',
    afterDraw(chart) {
        const a = chart.chartArea;
        const ctx = chart.ctx;
        ctx.save();
        ctx.strokeStyle = '#333';
        ctx.lineWidth = 1.2;
        ctx.strokeRect(a.left, a.top, a.right - a.left, a.bottom - a.top);
        ctx.restore();
    }
};

function baseAxis(min, max, tickValues, fit, labelText, fmt, rotated) {
    return {
        min, max,
        afterFit: s => { fit(s); noScalePadding(s); },
        afterBuildTicks: s => { s.ticks = tickValues.map(v => ({ value: v })); },
        border: { display: false },
        grid: { drawOnChartArea: false, drawTicks: true, tickLength: 6, tickColor: '#333' },
        ticks: rotated
            ? { color: '#444', font: { size: 12 }, padding: 4, minRotation: 90, maxRotation: 90, crossAlign: 'center', autoSkip: false, callback: fmt }
            : { color: '#444', font: { size: 12 }, padding: 4, minRotation: 0, maxRotation: 0, autoSkip: false, callback: fmt },
        title: { display: true, text: labelText, color: '#444', font: { size: 12 }, padding: 2 }
    };
}

// ---- panel K
addText('title', 'consensus CDF', 1230, 1165, 13);
const cdfY = [y2, y3, y4, y5, y6, y7, y8, y9, y10];
new Chart(makeCanvas(1005, 1185, 403, 367), {
    type: 'scatter',
    data: {
        datasets: cdfY.map((ys, i) => ({
            label: cdfLabels[i],
            data: ys.map((v, j) => ({ x: (i === 0 ? x2 : xCdf)[j], y: v })),
            showLine: true, borderColor: cdfColors[i], borderWidth: 1.6, pointRadius: 0
        }))
    },
    options: {
        responsive: false,
        layout: { padding: { top: 5, right: 5 } },
        scales: {
            x: baseAxis(-0.038, 1.04, cdfTicks, s => { s.height = 56; }, 'consensus index', v => v.toFixed(1), true),
            y: baseAxis(-0.04, 1.04, cdfTicks, s => { s.width = 54; }, 'CDF', v => v.toFixed(1), false)
        }
    },
    plugins: [framePlugin]
});
addLegend(1326, 1342, 44, 128, cdfColors, cdfLabels, 13, 12.7, 9, 27);

// ---- panel L
addText('title', 'Delta area', 1723, 1169, 13);
const deltaPts = kValues.map((k, i) => ({ x: k, y: deltaValues[i] }));
new Chart(makeCanvas(1492, 1190, 415, 376), {
    type: 'scatter',
    data: {
        datasets: [
            { data: deltaPts, pointRadius: 2.6, pointBackgroundColor: '#fff', pointBorderColor: '#333', pointBorderWidth: 1.1, order: 1 },
            { data: deltaPts, pointRadius: 6, pointBackgroundColor: '#fff', pointBorderWidth: 0, order: 2 },
            { data: deltaPts, showLine: true, borderColor: '#333', borderWidth: 1.1, pointRadius: 0, order: 3 }
        ]
    },
    options: {
        responsive: false,
        layout: { padding: { top: 5, right: 5 } },
        scales: {
            x: baseAxis(1.71, 10.32, kTicks, s => { s.height = 57; }, 'k', v => String(v), false),
            y: baseAxis(-0.08, 2.62, deltaTicks, s => { s.width = 56; }, 'relative change in area under CDF curve', v => v.toFixed(1), true)
        }
    },
    plugins: [framePlugin]
});
</script>
</body>
</html>
